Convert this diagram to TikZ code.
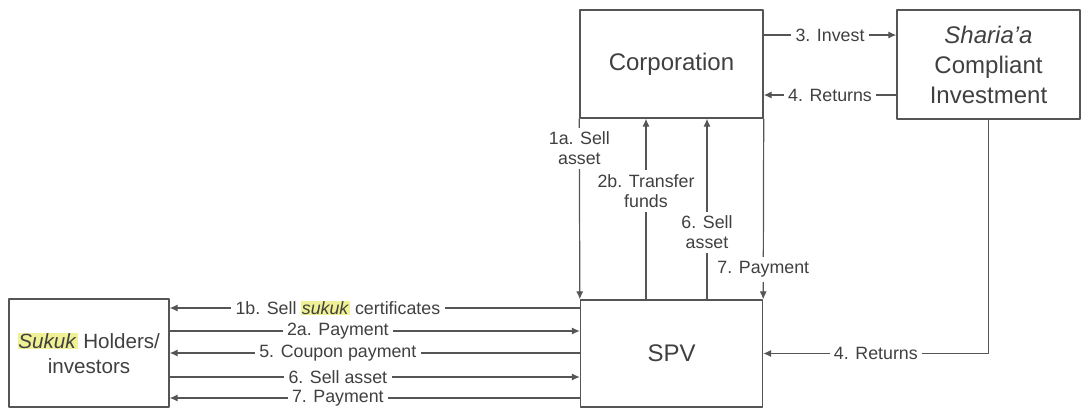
\documentclass[tikz,border=0pt]{standalone}
\usepackage{fontspec}
\setmainfont{Liberation Sans}
\usepackage{xcolor}
\usetikzlibrary{positioning,calc,arrows.meta}

\definecolor{inkgray}{RGB}{64,64,64}
\definecolor{linegray}{RGB}{85,85,85}
\definecolor{hlyellow}{RGB}{240,240,150}
\newcommand{\hlword}[1]{{\setlength{\fboxsep}{0.2pt}\colorbox{hlyellow}{\textit{#1}\kern0.3pt}}}

\begin{document}
\begin{tikzpicture}[x=0.5pt,y=-0.5pt, line cap=round, line join=round]
				\useasboundingbox (0,0) rectangle (1085,408);
				
				% ===== styles =====
				\tikzset{
					box/.style={draw=linegray, line width=0.7pt, inner sep=0pt, align=center, text=inkgray,
						font=\fontsize{12}{15}\selectfont},
					line/.style={draw=linegray, line width=0.6pt},
					fwd/.style={-{Latex[length=4pt,width=3.6pt]}},
					bwd/.style={{Latex[length=4pt,width=3.6pt]}-},
					lbl/.style={fill=white, text=inkgray, inner sep=2.2pt, align=center,
						font=\fontsize{8.9}{10}\selectfont}
				}
				
				% ===== boxes =====
				\node[box, minimum width=91.5pt, minimum height=54pt] (corp) at (671.5,64) {Corporation};
				\node[box, minimum width=91.5pt, minimum height=54.5pt] (sharia) at (988.5,64.5)
					{\textit{Sharia’a}\\Compliant\\Investment};
				\node[box, minimum width=91pt, minimum height=53.5pt] (spv) at (671.5,353.5) {SPV};
				\node[box, minimum width=80pt, minimum height=54pt, font=\fontsize{10.3}{12.5}\selectfont]
					(holders) at (89,353) {\hlword{Sukuk} Holders/\\investors};
				
				% ===== corporation <-> investment =====
				\draw[line,fwd] (corp.east |- 0,35) -- node[lbl]{3. Invest} (sharia.west |- 0,35);
				\draw[line,bwd] (corp.east |- 0,95) -- node[lbl]{4. Returns} (sharia.west |- 0,95);
				\draw[line,fwd] (sharia.south) |- node[lbl,pos=0.75]{4. Returns} (spv.east);
				
				% ===== corporation <-> SPV =====
				\draw[line,fwd] (corp.south west) -- node[lbl,pos=0.165]{1a. Sell\\asset} (spv.north west);
				\draw[line,fwd] (spv.north -| 646,0) -- node[lbl,pos=0.6]{2b. Transfer\\funds} (corp.south -| 646,0);
				\draw[line,fwd] (spv.north -| 707,0) -- node[lbl,pos=0.37]{6. Sell\\asset} (corp.south -| 707,0);
				\draw[line,fwd] (corp.south east) -- node[lbl,pos=0.835]{7. Payment} (spv.north east);
				
				% ===== holders <-> SPV =====
				\foreach \yy/\tip/\txt in {308/bwd/{1b. Sell \hlword{sukuk} certificates},
					331/fwd/{2a. Payment}, 353/bwd/{5. Coupon payment},
					377/fwd/{6. Sell asset}, 398/bwd/{7. Payment}}{
					\draw[line,\tip] (holders.east |- 0,\yy) -- node[lbl,pos=0.41]{\txt} (spv.west |- 0,\yy);
				}
			\end{tikzpicture}
\end{document}
